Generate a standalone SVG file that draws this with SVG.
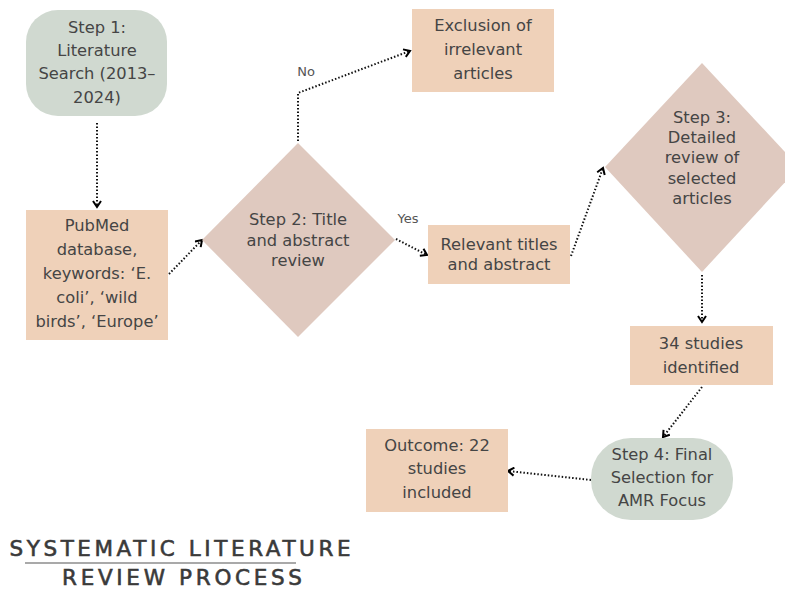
<svg xmlns="http://www.w3.org/2000/svg" width="785" height="589" viewBox="0 0 785 589">
<defs>
<marker id="arr" viewBox="0 0 10 10" refX="8" refY="5" markerWidth="10" markerHeight="10" markerUnits="userSpaceOnUse" orient="auto">
<path d="M2,1 L8,5 L2,9" fill="none" stroke="#000" stroke-width="2"/>
</marker>
</defs>
<style>
.t{font-family:"DejaVu Sans","Liberation Sans",sans-serif;font-size:16.3px;fill:#454545;text-anchor:middle;dominant-baseline:central}
.lbl{font-family:"DejaVu Sans","Liberation Sans",sans-serif;font-size:13px;fill:#555;text-anchor:middle;dominant-baseline:central}
.green{fill:#d0d9d0}
.peach{fill:#efd1b9}
.mauve{fill:#dfc9bf}
.c{fill:none;stroke:#111;stroke-width:2;stroke-dasharray:1.5 2;marker-end:url(#arr)}
.title{font-family:"DejaVu Sans","Liberation Sans",sans-serif;font-size:21.5px;font-weight:normal;fill:#3a3a3a;stroke:#3a3a3a;stroke-width:0.6;text-anchor:middle}
</style>
<rect width="785" height="589" fill="#fff"/>
<g id="connectors">
<path class="c" d="M97,123 L97,207"/>
<path class="c" d="M169,274 L202,240"/>
<path class="c" d="M298,141 L298,93 L410,51"/>
<path class="c" d="M396,239 L427,255"/>
<path class="c" d="M571,256 L603,168"/>
<path class="c" d="M702,275 L702,322"/>
<path class="c" d="M702,387 L663,437"/>
<path class="c" d="M591,480 L508,471"/>
</g>
<g id="labels">
<text class="lbl" x="306" y="71">No</text>
<text class="lbl" x="408" y="218">Yes</text>
</g>
<g id="step1">
<rect class="green" x="26" y="10" width="141" height="106" rx="32"/>
<text class="t" x="97" y="27">Step 1:</text>
<text class="t" x="97" y="50">Literature</text>
<text class="t" x="97" y="73">Search (2013–</text>
<text class="t" x="97" y="97">2024)</text>
</g>
<g id="pubmed">
<rect class="peach" x="26" y="210" width="142" height="130"/>
<text class="t" x="97" y="225">PubMed</text>
<text class="t" x="97" y="249">database,</text>
<text class="t" x="97" y="273">keywords: ‘E.</text>
<text class="t" x="97" y="297">coli’, ‘wild</text>
<text class="t" x="97" y="321">birds’, ‘Europe’</text>
</g>
<g id="step2">
<polygon class="mauve" points="298,143 395,240 298,337 202,240"/>
<text class="t" x="298" y="219">Step 2: Title</text>
<text class="t" x="298" y="240">and abstract</text>
<text class="t" x="298" y="260">review</text>
</g>
<g id="exclusion">
<rect class="peach" x="412" y="9" width="142" height="83"/>
<text class="t" x="483" y="25">Exclusion of</text>
<text class="t" x="483" y="49">irrelevant</text>
<text class="t" x="483" y="73">articles</text>
</g>
<g id="relevant">
<rect class="peach" x="428" y="225" width="142" height="59"/>
<text class="t" x="499" y="244">Relevant titles</text>
<text class="t" x="499" y="264">and abstract</text>
</g>
<g id="step3">
<polygon class="mauve" points="702,63 799,167 702,272 605,167"/>
<text class="t" x="702" y="117">Step 3:</text>
<text class="t" x="702" y="137">Detailed</text>
<text class="t" x="702" y="157">review of</text>
<text class="t" x="702" y="178">selected</text>
<text class="t" x="702" y="198">articles</text>
</g>
<g id="studies34">
<rect class="peach" x="630" y="326" width="143" height="59"/>
<text class="t" x="701" y="343">34 studies</text>
<text class="t" x="701" y="367">identified</text>
</g>
<g id="step4">
<rect class="green" x="591" y="438" width="142" height="82" rx="40"/>
<text class="t" x="662" y="454">Step 4: Final</text>
<text class="t" x="662" y="477">Selection for</text>
<text class="t" x="662" y="500">AMR Focus</text>
</g>
<g id="outcome">
<rect class="peach" x="366" y="429" width="142" height="83"/>
<text class="t" x="437" y="445">Outcome: 22</text>
<text class="t" x="437" y="468">studies</text>
<text class="t" x="437" y="492">included</text>
</g>
<g id="title">
<text class="title" x="180" y="556" textLength="341" lengthAdjust="spacing">SYSTEMATIC LITERATURE</text>
<line x1="25" y1="563" x2="296" y2="563" stroke="#555" stroke-width="1.2"/>
<text class="title" x="182" y="585" textLength="240" lengthAdjust="spacing">REVIEW PROCESS</text>
</g>
</svg>
